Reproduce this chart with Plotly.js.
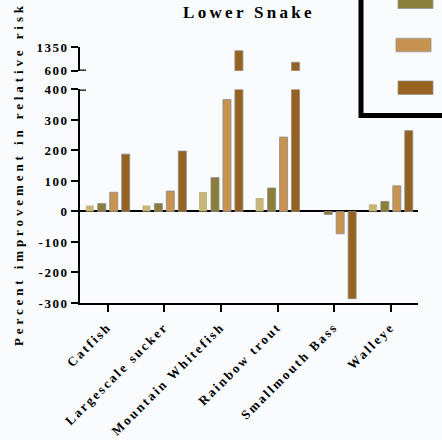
<!DOCTYPE html>
<html>
<head>
<meta charset="utf-8">
<script src="https://cdn.plot.ly/plotly-3.0.1.min.js"></script>
<style>
html,body{margin:0;padding:0;background:#f9fbfd;}
#chart .gtitle{letter-spacing:3.3px;}
#chart .annotation-text{letter-spacing:3.9px;}
#chart .xtick text{letter-spacing:2.3px;}
#chart .ytick text, #chart .y2tick text{letter-spacing:1.5px;}
</style>
</head>
<body>
<div id="chart" style="width:442px;height:440px;"></div>
<script>
// ---- data ----
const categories = ["Catfish", "Largescale sucker", "Mountain Whitefish", "Rainbow trout", "Smallmouth Bass", "Walleye"];
const series1 = [20, 20, 64, 44, null, 24];
const series2 = [26, 26, 111, 77, -10, 33];
const series3 = [63, 67, 367, 244, -73, 84];
const series4 = [188, 198, 1230, 866, -286, 265];
const seriesNames = ["Series 1", "Series 2", "Series 3", "Series 4"];
const lowerTicks = [-300, -200, -100, 0, 100, 200, 300, 400];
const upperTicks = [600, 1350];

// ---- styles ----
const colors = ["#c6b67c", "#8b7d3a", "#c89250", "#966220"];
const lineW = [0, 1, 1, 1];
const allSeries = [series1, series2, series3, series4];

const traces = [];
allSeries.forEach((vals, i) => {
  ["y", "y2"].forEach(ax => {
    traces.push({
      type: "bar",
      x: categories,
      y: vals,
      name: seriesNames[i],
      yaxis: ax,
      xaxis: "x",
      showlegend: false,
      marker: {color: colors[i], line: {color: "rgba(140,140,140,0.8)", width: lineW[i]}},
      hoverinfo: "skip"
    });
  });
});

// pixel helpers for decoration
const PL = 80, PR = 418, PT = 47, PB = 303.3;
const px = v => (v - PL) / (PR - PL);
const py = v => (PB - v) / (PB - PT);

const shapes = [
  // break marks
  {type: "line", xref: "paper", yref: "y2", x0: 0, x1: px(86), y0: 600, y1: 600, line: {color: "black", width: 2.5}},
  {type: "line", xref: "paper", yref: "y", x0: 0, x1: px(86), y0: 400, y1: 400, line: {color: "black", width: 2.5}},
  // legend box
  {type: "rect", xref: "paper", yref: "paper", x0: px(361), x1: px(470), y0: py(115.5), y1: py(-20), line: {color: "black", width: 5}, fillcolor: "rgba(0,0,0,0)"},
];
// legend swatches
const swY = [-48, -5, 38.3, 81];
const swX = [398, 398, 396, 398];
for (let i = 0; i < 4; i++) {
  shapes.push({type: "rect", xref: "paper", yref: "paper", x0: px(swX[i]), x1: px(swX[i] + 35), y0: py(swY[i] + 13.5), y1: py(swY[i]),
    fillcolor: colors[i], line: {color: "rgba(150,150,150,0.8)", width: 1}});
}

const font = {family: "Liberation Serif, Times New Roman, serif", size: 13, color: "black", weight: "bold"};

const layout = {
  width: 442, height: 440,
  paper_bgcolor: "#f9fbfd", plot_bgcolor: "rgba(0,0,0,0)",
  margin: {l: PL, r: 442 - PR, t: PT, b: 440 - PB},
  font: font,
  title: {text: "<b>Lower Snake</b>", x: 0.5, xref: "paper", y: 1 - 12 / 440, yref: "container", yanchor: "middle",
    font: {family: "Liberation Serif, Times New Roman, serif", size: 17, color: "black"}},
  barmode: "group",
  bargap: 0.155,
  bargroupgap: 0.33,
  xaxis: {
    anchor: "y", range: [-0.49, 5.48], showline: true, linecolor: "black", linewidth: 2,
    ticks: "outside", ticklen: 7, tickwidth: 2, tickcolor: "black", tickangle: -45, ticklabelstandoff: 2,
    showgrid: false, zeroline: false, tickfont: font, fixedrange: true
  },
  yaxis: {
    domain: [0, py(89.5)], range: [-300, 400], tickvals: lowerTicks, ticktext: lowerTicks.map(String),
    showline: true, linecolor: "black", linewidth: 2, ticks: "outside", ticklen: 7, tickwidth: 2, tickcolor: "black",
    showgrid: false, zeroline: true, zerolinecolor: "black", zerolinewidth: 2, tickfont: font, anchor: "x"
  },
  yaxis2: {
    domain: [py(70.7), 1], range: [600, 1350], tickvals: upperTicks, ticktext: upperTicks.map(String),
    showline: true, linecolor: "black", linewidth: 2, ticks: "outside", ticklen: 7, tickwidth: 2, tickcolor: "black",
    showgrid: false, zeroline: false, tickfont: font, anchor: "x"
  },
  shapes: shapes,
  annotations: [{
    text: "<b>Percent improvement in relative risk</b>", textangle: -90, showarrow: false,
    xref: "paper", yref: "paper", x: px(19), y: py(174), xanchor: "center", yanchor: "middle",
    font: {family: "Liberation Serif, Times New Roman, serif", size: 13, color: "black"}
  }]
};

Plotly.newPlot("chart", traces, layout, {staticPlot: true, displayModeBar: false});
</script>
</body>
</html>
